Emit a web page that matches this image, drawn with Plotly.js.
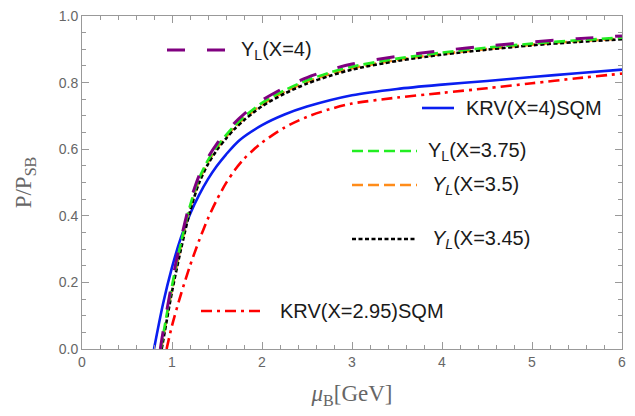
<!DOCTYPE html>
<html>
<head>
<meta charset="utf-8">
<script src="https://cdn.plot.ly/plotly-3.0.1.min.js"></script>
<style>html,body{margin:0;padding:0;background:#fff;}#chart{width:635px;height:416px;}</style>
</head>
<body>
<div id="chart"></div>
<script>
// ---- data ----
const seriesNames = ["Y<sub>L</sub>(X=4)", "KRV(X=4)SQM", "Y<sub>L</sub>(X=3.75)", "<i>Y<sub>L</sub></i>(X=3.5)", "<i>Y<sub>L</sub></i>(X=3.45)", "KRV(X=2.95)SQM"];

const xYL4   = [0.87, 0.9, 1.0, 1.1, 1.2, 1.3, 1.4, 1.5, 1.6, 1.7, 1.8, 1.9, 2.0, 2.25, 2.5, 2.75, 3.0, 3.5, 4.0, 4.5, 5.0, 5.5, 6.0];
const yYL4   = [0, 0.05, 0.2, 0.33, 0.44, 0.52, 0.575, 0.617, 0.65, 0.68, 0.705, 0.727, 0.747, 0.785, 0.815, 0.838, 0.856, 0.879, 0.896, 0.91, 0.922, 0.932, 0.94];

const xYL375 = [0.875, 0.9, 1.0, 1.1, 1.2, 1.3, 1.4, 1.5, 1.6, 1.7, 1.8, 1.9, 2.0, 2.25, 2.5, 2.75, 3.0, 3.5, 4.0, 4.5, 5.0, 5.5, 6.0];
const yYL375 = [0, 0.04, 0.19, 0.32, 0.43, 0.512, 0.567, 0.609, 0.642, 0.672, 0.697, 0.719, 0.739, 0.777, 0.807, 0.83, 0.848, 0.872, 0.89, 0.905, 0.917, 0.927, 0.935];

const xYL35  = [0.88, 0.9, 1.0, 1.1, 1.2, 1.3, 1.4, 1.5, 1.6, 1.7, 1.8, 1.9, 2.0, 2.25, 2.5, 2.75, 3.0, 3.5, 4.0, 4.5, 5.0, 5.5, 6.0];
const yYL35  = [0, 0.03, 0.18, 0.31, 0.422, 0.505, 0.561, 0.603, 0.637, 0.667, 0.692, 0.714, 0.734, 0.772, 0.802, 0.825, 0.843, 0.868, 0.886, 0.901, 0.914, 0.924, 0.932];

const xYL345 = [0.885, 0.9, 1.0, 1.1, 1.2, 1.3, 1.4, 1.5, 1.6, 1.7, 1.8, 1.9, 2.0, 2.25, 2.5, 2.75, 3.0, 3.5, 4.0, 4.5, 5.0, 5.5, 6.0];
const yYL345 = [0, 0.022, 0.172, 0.30, 0.413, 0.498, 0.555, 0.598, 0.632, 0.662, 0.687, 0.709, 0.729, 0.767, 0.797, 0.82, 0.839, 0.865, 0.884, 0.899, 0.912, 0.922, 0.93];

const xKRV4  = [0.8, 0.9, 1.0, 1.1, 1.2, 1.3, 1.4, 1.5, 1.6, 1.75, 2.0, 2.25, 2.5, 3.0, 3.5, 4.0, 4.5, 5.0, 5.5, 6.0];
const yKRV4  = [0, 0.135, 0.245, 0.335, 0.405, 0.462, 0.51, 0.55, 0.584, 0.627, 0.672, 0.704, 0.728, 0.762, 0.781, 0.794, 0.805, 0.817, 0.828, 0.839];

const xKRV295 = [0.94, 1.0, 1.1, 1.2, 1.3, 1.4, 1.5, 1.6, 1.7, 1.8, 1.9, 2.0, 2.25, 2.5, 2.75, 3.0, 3.5, 4.0, 4.5, 5.0, 5.5, 6.0];
const yKRV295 = [0, 0.07, 0.165, 0.25, 0.325, 0.392, 0.449, 0.498, 0.538, 0.571, 0.597, 0.62, 0.665, 0.697, 0.72, 0.737, 0.755, 0.769, 0.783, 0.798, 0.813, 0.827];

const xTickVals = [0, 1, 2, 3, 4, 5, 6];
const yTickVals = [0, 0.2, 0.4, 0.6, 0.8, 1.0];
const yTickText = ["0.0", "0.2", "0.4", "0.6", "0.8", "1.0"];

// ---- styling ----
const styles = {
  YL4:    {color: "#800080", width: 3,   dash: "18px,22px"},
  KRV4:   {color: "#0a1ef0", width: 2.6, dash: "solid"},
  YL375:  {color: "#22ee22", width: 2.6, dash: "11px,5px"},
  YL35:   {color: "#ff8c1a", width: 2.6, dash: "11px,5px"},
  YL345:  {color: "#000000", width: 2.6, dash: "4px,2.5px"},
  KRV295: {color: "#ff0000", width: 2.6, dash: "11px,5px,3px,5px"}
};

function tr(x, y, st) {
  return {x: x, y: y, type: "scatter", mode: "lines", showlegend: false, hoverinfo: "skip",
          line: {color: st.color, width: st.width, dash: st.dash, shape: "spline", smoothing: 0.8}};
}

const data = [
  tr(xKRV4, yKRV4, styles.KRV4),
  tr(xKRV295, yKRV295, styles.KRV295),
  tr(xYL35, yYL35, styles.YL35),
  tr(xYL345, yYL345, styles.YL345),
  tr(xYL375, yYL375, styles.YL375),
  tr(xYL4, yYL4, styles.YL4)
];

// legend samples (paper coordinates), placed like the reference
const W = 635, H = 416, mL = 82, mR = 13, mT = 16, mB = 67;
const pw = W - mL - mR, ph = H - mT - mB;
function px(x) { return (x - mL) / pw; }
function py(y) { return 1 - (y - mT) / ph; }
const legendItems = [
  {st: styles.YL4,    x0: 167, x1: 227, y: 50,  tx: 239, name: seriesNames[0]},
  {st: styles.KRV4,   x0: 422, x1: 454, y: 108, tx: 464, name: seriesNames[1]},
  {st: styles.YL375,  x0: 352, x1: 417, y: 151, tx: 426, name: seriesNames[2]},
  {st: styles.YL35,   x0: 352, x1: 417, y: 185, tx: 430, name: seriesNames[3]},
  {st: styles.YL345,  x0: 352, x1: 415, y: 239, tx: 430, name: seriesNames[4]},
  {st: styles.KRV295, x0: 201, x1: 265, y: 311, tx: 278, name: seriesNames[5]}
];
const shapes = [], annotations = [];
legendItems.forEach(it => {
  shapes.push({type: "line", xref: "paper", yref: "paper", x0: px(it.x0), x1: px(it.x1), y0: py(it.y), y1: py(it.y),
               line: {color: it.st.color, width: it.st.width, dash: it.st.dash}});
  annotations.push({xref: "paper", yref: "paper", x: px(it.tx), y: py(it.y), xanchor: "left", yanchor: "middle",
                    text: it.name, showarrow: false, font: {family: "Liberation Sans, Arial, sans-serif", size: 20, color: "#1a1a1a"}});
});

const axisCommon = {
  showgrid: false, zeroline: false, showline: true, linecolor: "#999999", linewidth: 1,
  mirror: "allticks", ticks: "inside", ticklen: 7, tickcolor: "#999999", tickwidth: 1,
  tickfont: {family: "Liberation Sans, Arial, sans-serif", size: 14, color: "#666666"}
};

const layout = {
  width: W, height: H,
  margin: {l: mL, r: mR, t: mT, b: mB, pad: 0},
  paper_bgcolor: "#ffffff", plot_bgcolor: "#ffffff",
  showlegend: false,
  xaxis: Object.assign({}, axisCommon, {
    range: [0, 6], tickvals: xTickVals, ticktext: xTickVals.map(String),
    minor: {ticks: "inside", dtick: 0.2, ticklen: 4, tickcolor: "#999999", showgrid: false},
    title: {text: "<i>μ</i><sub>B</sub>[GeV]", standoff: 16,
            font: {family: "Liberation Serif, Times New Roman, serif", size: 23, color: "#666666"}}
  }),
  yaxis: Object.assign({}, axisCommon, {
    range: [0, 1], tickvals: yTickVals, ticktext: yTickText,
    minor: {ticks: "inside", dtick: 0.05, ticklen: 4, tickcolor: "#999999", showgrid: false},
    title: {text: "P/P<sub>SB</sub>", standoff: 20,
            font: {family: "Liberation Serif, Times New Roman, serif", size: 23, color: "#666666"}}
  }),
  shapes: shapes,
  annotations: annotations
};

Plotly.newPlot("chart", data, layout, {staticPlot: true, displayModeBar: false});
</script>
</body>
</html>
